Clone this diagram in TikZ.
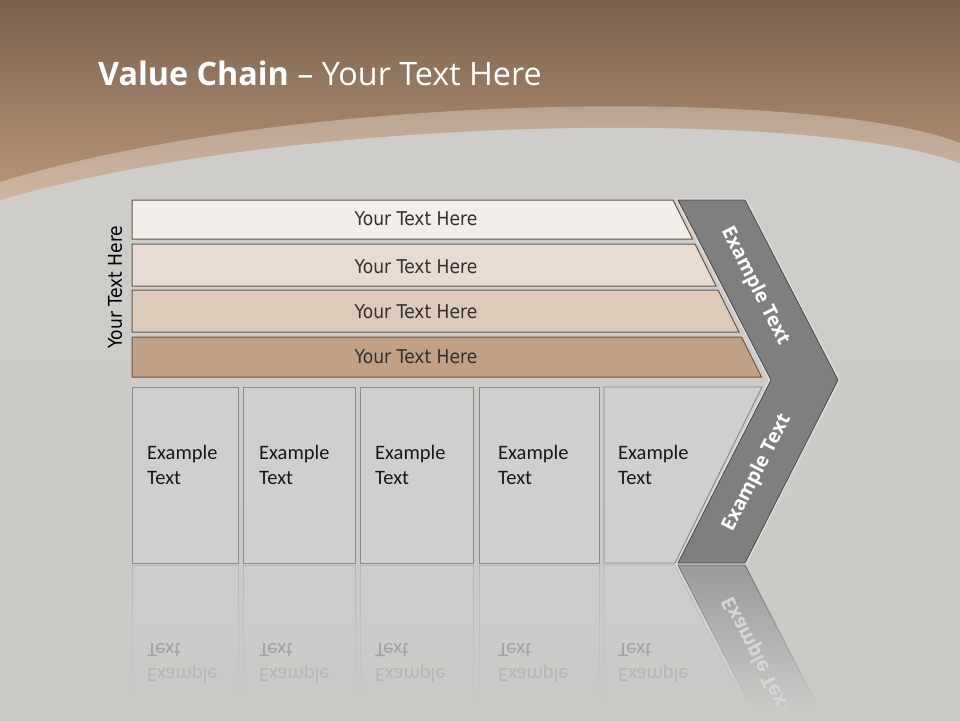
\documentclass[tikz,border=0pt]{standalone}
\usepackage{fontspec}
\setmainfont{Carlito}
\newfontfamily\tah[FakeStretch=0.9]{DejaVu Sans}
\newfontfamily\osans{Open Sans}
\usetikzlibrary{fadings}
\definecolor{bgtop}{HTML}{D0CECB}
\definecolor{bgbot}{HTML}{CBC9C6}
\definecolor{brtop}{HTML}{7A624F}
\definecolor{brbot}{HTML}{B99679}
\definecolor{barline}{HTML}{6B5646}
\definecolor{barA}{HTML}{F2EEE9}
\definecolor{barB}{HTML}{E7DBD2}
\definecolor{barC}{HTML}{DCCABB}
\definecolor{barD}{HTML}{C0A086}
\definecolor{bartext}{HTML}{35302C}
\definecolor{boxfill}{HTML}{CFCFCF}
\definecolor{boxline}{HTML}{8A8A8A}
\definecolor{chevfill}{HTML}{7F7F7F}
\definecolor{chevline}{HTML}{4A4A4A}
\definecolor{chevedge}{HTML}{DCDCDC}
\definecolor{reflA}{HTML}{B6B6B6}
\definecolor{reflB}{HTML}{A2A2A2}
\definecolor{reflC}{HTML}{D6D6D6}
\tikzfading[name=reflfade, top color=transparent!35, bottom color=transparent!100]
\begin{document}
\begin{tikzpicture}[x=1pt,y=-1pt,
  barshape/.style={draw=barline, line width=1pt},
  bartxt/.style={font=\tah\fontsize{19}{22}\selectfont, text=bartext, anchor=base, inner sep=0pt},
  ebox/.style={fill=boxfill, draw=boxline, line width=0.9pt},
  eboxrefl/.style={fill=boxfill, draw=boxline!70!white, line width=0.9pt, path fading=reflfade},
  boxtxt/.style={font=\fontsize{20.5}{25.5}\selectfont, text=black!90, align=left, anchor=west, inner sep=0pt},
  chev/.style={fill=chevfill, draw=chevline, line width=0.8pt, line join=miter},
  chevglow/.style={draw=chevedge, line width=4pt, line join=miter},
  chevtxt/.style={font=\osans\bfseries\fontsize{19.5}{23}\selectfont, text=white, inner sep=0pt}]
\useasboundingbox (0,0) rectangle (960,720);
% background
\shade[top color=bgtop, bottom color=bgbot] (0,0) rectangle (960,720);
\shade[top color=brtop, bottom color=brbot] (0,0) -- (960,0) -- (960,163)
  .. controls (820,110) and (300,112) .. (0,200) -- cycle;
\fill[white, opacity=0.3] (0,182) .. controls (300,90) and (820,88) .. (960,143)
  -- (960,163) .. controls (820,110) and (300,112) .. (0,200) -- cycle;
% title
\node[anchor=base west, inner sep=0pt, text=white, font=\osans\fontsize{32.3}{38}\selectfont] (title) at (98,85)
  {\textbf{Value Chain} – Your Text Here};
% vertical label
\node[rotate=90, inner sep=0pt, font=\tah\fontsize{19}{22}\selectfont, text=black] (side) at (115,287) {Your Text Here};
% bars
\draw[barshape, fill=barA] (132,200) -- (673,200) -- (692.5,239) -- (132,239) -- cycle;
\draw[barshape, fill=barB] (132,244) -- (695,244) -- (716,286) -- (132,286) -- cycle;
\draw[barshape, fill=barC] (132,290) -- (718,290) -- (739,332) -- (132,332) -- cycle;
\draw[barshape, fill=barD] (132,337) -- (741.5,337) -- (761.5,377) -- (132,377) -- cycle;
\node[bartxt] (b1) at (416,225.5) {Your Text Here};
\node[bartxt] (b2) at (416,273.5) {Your Text Here};
\node[bartxt] (b3) at (416,318.5) {Your Text Here};
\node[bartxt] (b4) at (416,363.5) {Your Text Here};
% chevron
\draw[chevglow] (678,200) -- (745,200) -- (838,380) -- (745,563) -- (678,563) -- (771,380) -- cycle;
\draw[chev] (678,200) -- (745,200) -- (838,380) -- (745,563) -- (678,563) -- (771,380) -- cycle;
\node[chevtxt, rotate=-63] (c1) at (755,286) {Example Text};
\node[chevtxt, rotate=63] (c2) at (757,473) {Example Text};
% boxes
\draw[ebox] (132,387) rectangle (238,563);
\draw[ebox] (243,387) rectangle (355,563);
\draw[ebox] (360,387) rectangle (473,563);
\draw[ebox] (479,387) rectangle (599,563);
\draw[ebox] (604,387) -- (762,387) -- (675,563) -- (604,563) -- cycle;
\node[boxtxt] (e1) at (147,465) {Example\\Text};
\node[boxtxt] (e2) at (259,465) {Example\\Text};
\node[boxtxt] (e3) at (375,465) {Example\\Text};
\node[boxtxt] (e4) at (498,465) {Example\\Text};
\node[boxtxt] (e5) at (618,465) {Example\\Text};
% reflections
\path[eboxrefl] (132,565) rectangle (238,705);
\path[eboxrefl] (243,565) rectangle (355,705);
\path[eboxrefl] (360,565) rectangle (473,705);
\path[eboxrefl] (479,565) rectangle (599,705);
\path[eboxrefl] (604,565) -- (675,565) -- (744,705) -- (604,705) -- cycle;
\path[fill=chevedge, path fading=reflfade] (675,565) -- (681,565) -- (752,705) -- (746,705) -- cycle;
\path[fill=chevfill, draw=chevline, line width=0.8pt, path fading=reflfade] (678,565) -- (745,565) -- (817,705) -- (750,705) -- cycle;
\node[boxtxt, yscale=-1] (r1) at (147,663) {{\color{reflA}Example}\\{\color{reflB}Text}};
\node[boxtxt, yscale=-1] (r2) at (259,663) {{\color{reflA}Example}\\{\color{reflB}Text}};
\node[boxtxt, yscale=-1] (r3) at (375,663) {{\color{reflA}Example}\\{\color{reflB}Text}};
\node[boxtxt, yscale=-1] (r4) at (498,663) {{\color{reflA}Example}\\{\color{reflB}Text}};
\node[boxtxt, yscale=-1] (r5) at (618,663) {{\color{reflA}Example}\\{\color{reflB}Text}};
\begin{scope}
\clip (678,565) -- (745,565) -- (817,705) -- (750,705) -- cycle;
\node[chevtxt, text=reflC, rotate=-63, yscale=-1] (rc) at (757,655) {Example Text};
\end{scope}
\end{tikzpicture}
\end{document}
